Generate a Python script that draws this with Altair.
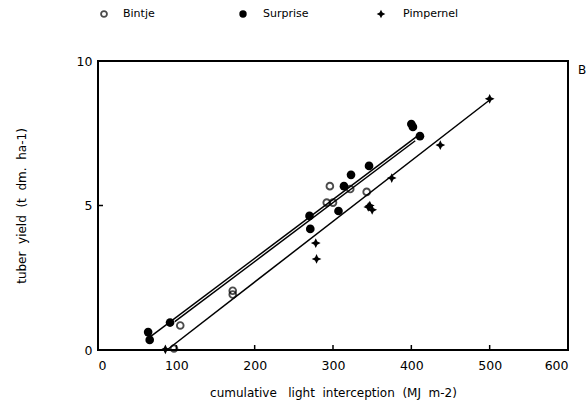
import altair as alt
import pandas as pd

# ---- data ----
bintje_x = [97, 105, 172, 172, 292, 300, 296, 322, 343]
bintje_y = [0.05, 0.85, 2.05, 1.92, 5.1, 5.1, 5.67, 5.57, 5.47]

surprise_x = [64, 66, 92, 270, 271, 307, 314, 323, 346, 400, 402, 411]
surprise_y = [0.62, 0.35, 0.95, 4.64, 4.19, 4.81, 5.67, 6.06, 6.37, 7.82, 7.72, 7.40]

pimpernel_x = [86, 278, 279, 345, 350, 347, 375, 437, 500]
pimpernel_y = [0.02, 3.7, 3.15, 4.95, 4.85, 5.0, 5.95, 7.09, 8.69]

# fitted lines (end points)
line_series = ["Surprise", "Surprise", "Bintje", "Bintje", "Pimpernel", "Pimpernel"]
line_x = [64, 411, 98, 405, 88, 500]
line_y = [0.40, 7.47, 0.98, 7.24, 0.0, 8.65]

x_ticks = [0, 100, 200, 300, 400, 500, 600]
inner_x_ticks = [100, 200, 300, 400, 500]
y_ticks = [0, 5, 10]
inner_y_ticks = [5]

legend_names = ["Bintje", "Surprise", "Pimpernel"]

FONT = "DejaVu Sans"
W, H = 470, 289

pts = pd.DataFrame(
    {"x": bintje_x + surprise_x + pimpernel_x,
     "y": bintje_y + surprise_y + pimpernel_y,
     "cultivar": ["Bintje"] * len(bintje_x) + ["Surprise"] * len(surprise_x)
                 + ["Pimpernel"] * len(pimpernel_x)}
)
lines = pd.DataFrame({"cultivar": line_series, "x": line_x, "y": line_y})

xs = alt.Scale(domain=[0, 600], nice=False, zero=False)
ys = alt.Scale(domain=[0, 10], nice=False, zero=False)

NBSP = "\u00a0"
xtitle = (NBSP * 2).join(["cumulative", NBSP + "light", "interception", "(MJ", "m-2)"])
ytitle = (NBSP * 2).join(["tuber", "yield", "(t", "dm.", "ha-1)"])

xaxis = alt.Axis(values=x_ticks, ticks=False, domain=False, grid=False,
                 labelFont=FONT, labelFontSize=12.5, labelColor="black",
                 labelPadding=9, title=xtitle, titleFont=FONT, titleFontSize=12,
                 titleFontWeight="normal", titleColor="black", titlePadding=16)
yaxis = alt.Axis(values=y_ticks, ticks=False, domain=False, grid=False,
                 labelFont=FONT, labelFontSize=12.5, labelColor="black",
                 labelPadding=6, title=ytitle, titleFont=FONT, titleFontSize=12,
                 titleFontWeight="normal", titleColor="black", titlePadding=48)

STAR = "M0,-1L0.32,-0.32L1,0L0.32,0.32L0,1L-0.32,0.32L-1,0L-0.32,-0.32Z"

base_line = alt.Chart(lines).mark_line(color="black", strokeWidth=1.5).encode(
    x=alt.X("x:Q", scale=xs, axis=xaxis),
    y=alt.Y("y:Q", scale=ys, axis=yaxis),
    detail="cultivar:N",
)

bintje = alt.Chart(pts).transform_filter(alt.datum.cultivar == "Bintje").mark_point(
    shape="circle", filled=False, color="black", strokeWidth=1.9, size=45
).encode(x=alt.X("x:Q", scale=xs), y=alt.Y("y:Q", scale=ys))

surprise = alt.Chart(pts).transform_filter(alt.datum.cultivar == "Surprise").mark_point(
    shape="circle", filled=True, color="black", opacity=1, size=75
).encode(x=alt.X("x:Q", scale=xs), y=alt.Y("y:Q", scale=ys))

pimpernel = alt.Chart(pts).transform_filter(alt.datum.cultivar == "Pimpernel").mark_point(
    shape=STAR, filled=True, color="black", opacity=1, size=95
).encode(x=alt.X("x:Q", scale=xs), y=alt.Y("y:Q", scale=ys))

# inward tick marks
xt = alt.Chart(pd.DataFrame({"v": inner_x_ticks})).mark_rule(color="black", strokeWidth=1.5).encode(
    x=alt.X("v:Q", scale=xs), y=alt.value(H), y2=alt.value(H - 5))
yt = alt.Chart(pd.DataFrame({"v": inner_y_ticks})).mark_rule(color="black", strokeWidth=1.5).encode(
    y=alt.Y("v:Q", scale=ys), x=alt.value(0), x2=alt.value(5))

# legend across the top
leg_df = pd.DataFrame({"name": legend_names})
LY = -47
leg_sym_x = [6, 145, 283]
leg_txt_x = [25, 165, 305]
leg_layers = []
leg_layers.append(alt.Chart(leg_df).transform_filter(alt.datum.name == "Bintje").mark_point(
    shape="circle", filled=False, color="black", strokeWidth=1.8, size=35
).encode(x=alt.value(leg_sym_x[0]), y=alt.value(LY)))
leg_layers.append(alt.Chart(leg_df).transform_filter(alt.datum.name == "Surprise").mark_point(
    shape="circle", filled=True, color="black", opacity=1, size=55
).encode(x=alt.value(leg_sym_x[1]), y=alt.value(LY)))
leg_layers.append(alt.Chart(leg_df).transform_filter(alt.datum.name == "Pimpernel").mark_point(
    shape=STAR, filled=True, color="black", opacity=1, size=75
).encode(x=alt.value(leg_sym_x[2]), y=alt.value(LY)))
for i, n in enumerate(legend_names):
    leg_layers.append(alt.Chart(leg_df).transform_filter(alt.datum.name == n).mark_text(
        font=FONT, fontSize=11, color="black", align="left", baseline="middle"
    ).encode(x=alt.value(leg_txt_x[i]), y=alt.value(LY), text="name:N"))

panel = alt.Chart(pd.DataFrame({"t": ["B"]})).mark_text(
    font=FONT, fontSize=12, color="black", align="left", baseline="middle"
).encode(x=alt.value(W + 10), y=alt.value(9), text="t:N")

chart = alt.layer(base_line, xt, yt, bintje, surprise, pimpernel, panel, *leg_layers).properties(
    width=W, height=H,
    autosize=alt.AutoSizeParams(type="none"),
    padding={"left": 98, "top": 61, "right": 18, "bottom": 68},
    background="white",
).configure_view(stroke="black", strokeWidth=2)

chart.save("out.html", embed_options={"renderer": "svg", "actions": False})
